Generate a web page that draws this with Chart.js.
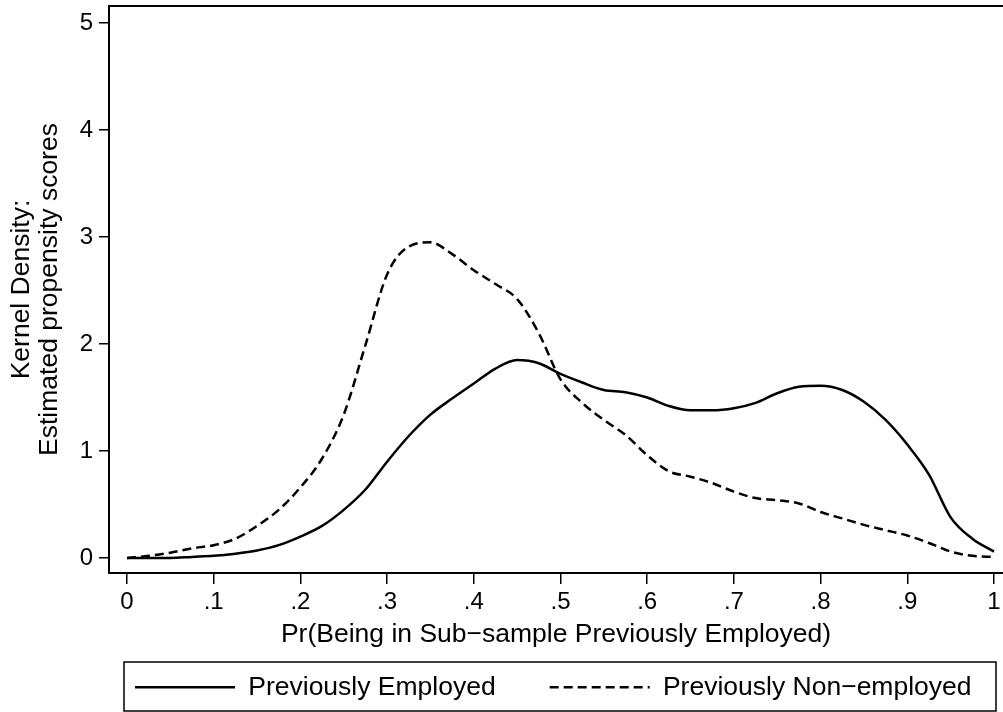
<!DOCTYPE html>
<html>
<head>
<meta charset="utf-8">
<script src="https://cdn.jsdelivr.net/npm/chart.js@4.4.1/dist/chart.umd.min.js"></script>
<style>
    html, body { margin: 0; padding: 0; background: #fff; }
    #box { width: 1003px; height: 712px; }
</style>
</head>
<body>
<div id="box"><canvas id="densidade"></canvas></div>
<script>
var xGrid = [
    0, 0.025, 0.05, 0.075, 0.1, 0.125, 0.15, 0.175, 0.2, 0.225,
    0.25, 0.275, 0.3, 0.325, 0.35, 0.375, 0.4, 0.425, 0.45, 0.475,
    0.5, 0.525, 0.55, 0.575, 0.6, 0.625, 0.65, 0.675, 0.7, 0.725,
    0.75, 0.775, 0.8, 0.825, 0.85, 0.875, 0.9, 0.925, 0.95, 0.975, 1
];

var employed = [
    0, 0, 0, 0.01, 0.02, 0.04, 0.07, 0.12, 0.20, 0.30,
    0.45, 0.64, 0.90, 1.14, 1.34, 1.49, 1.63, 1.77, 1.85, 1.82,
    1.72, 1.64, 1.57, 1.55, 1.50, 1.42, 1.38, 1.38, 1.40, 1.45,
    1.54, 1.60, 1.61, 1.57, 1.46, 1.29, 1.06, 0.78, 0.38, 0.18, 0.06
];

var nonEmployed = [
    0, 0.02, 0.05, 0.09, 0.12, 0.18, 0.30, 0.45, 0.66, 0.93,
    1.34, 1.99, 2.65, 2.91, 2.95, 2.84, 2.69, 2.56, 2.42, 2.10,
    1.67, 1.45, 1.29, 1.15, 0.96, 0.81, 0.76, 0.70, 0.62, 0.56,
    0.54, 0.51, 0.43, 0.37, 0.31, 0.26, 0.21, 0.14, 0.06, 0.02, 0.01
];

var seriesNames = ['Previously Employed', 'Previously Non\u2212employed'];

var xTicks = [0, 0.1, 0.2, 0.3, 0.4, 0.5, 0.6, 0.7, 0.8, 0.9, 1];
var xTickLabels = ['0', '.1', '.2', '.3', '.4', '.5', '.6', '.7', '.8', '.9', '1'];
var yTicks = [0, 1, 2, 3, 4, 5];
var yTickLabels = ['0', '1', '2', '3', '4', '5'];

var xTitle = 'Pr(Being in Sub\u2212sample Previously Employed)';
var yTitle = ['Kernel Density:', 'Estimated propensity scores'];

function pontos(valores) {
    var lista = [];
    for (let i = 0; i < xGrid.length; i++) {
        lista.push({ x: xGrid[i], y: valores[i] });
    }
    return lista;
}

var fonte = "'Liberation Sans', Arial, Helvetica, sans-serif";
var legendPad = 54;

// moldura do grafico e caixa da legenda, como no Stata
var moldura = {
    id: 'moldura',
    beforeLayout: function (chart) {
        var lg = chart.legend;
        if (lg && !lg._fitOriginal) {
            lg._fitOriginal = lg.fit;
            lg.fit = function () {
                lg._fitOriginal.call(lg);
                lg.height = 0;
            };
        }
    },
    afterLayout: function (chart) {
        var lg = chart.legend;
        lg.left = 135 - legendPad;
        lg.right = 1100;
        lg.top = 674 - legendPad;
        lg.bottom = 711;
        lg.width = lg.right - lg.left;
        lg.height = lg.bottom - lg.top;
    },
    afterDraw: function (chart) {
        var ctx = chart.ctx;
        var area = chart.chartArea;
        ctx.save();
        ctx.strokeStyle = '#000';
        ctx.lineWidth = 2;
        ctx.beginPath();
        ctx.moveTo(area.left - 1, area.top);
        ctx.lineTo(area.right, area.top);
        ctx.stroke();
        ctx.lineWidth = 1.5;
        ctx.strokeRect(124, 662, 872, 49);
        ctx.restore();
    }
};

Chart.defaults.font.family = fonte;
Chart.defaults.color = '#000';

var graphDensidade = new Chart(document.getElementById('densidade'), {
    type: 'line',
    data: {
        datasets: [{
            label: seriesNames[0],
            data: pontos(employed),
            borderColor: '#000',
            backgroundColor: '#000',
            borderWidth: 2.5,
            pointRadius: 0,
            fill: false,
            cubicInterpolationMode: 'monotone'
        }, {
            label: seriesNames[1],
            data: pontos(nonEmployed),
            borderColor: '#000',
            backgroundColor: '#000',
            borderWidth: 2.5,
            borderDash: [9, 5],
            pointRadius: 0,
            fill: false,
            cubicInterpolationMode: 'monotone'
        }]
    },
    options: {
        responsive: true,
        maintainAspectRatio: false,
        animation: false,
        layout: {
            padding: { left: 0, top: 6, right: 0, bottom: 59 }
        },
        plugins: {
            tooltip: { enabled: false },
            legend: {
                display: true,
                position: 'bottom',
                align: 'start',
                labels: {
                    usePointStyle: true,
                    pointStyleWidth: 100,
                    padding: legendPad,
                    color: '#000',
                    font: { size: 26.5 },
                    generateLabels: function (chart) {
                        var itens = Chart.defaults.plugins.legend.labels.generateLabels(chart);
                        itens.forEach(function (item) {
                            var ds = chart.data.datasets[item.datasetIndex];
                            item.pointStyle = 'line';
                            item.lineDash = ds.borderDash || [];
                            item.lineWidth = 2.5;
                            item.strokeStyle = '#000';
                            item.fillStyle = '#000';
                        });
                        return itens;
                    }
                }
            }
        },
        scales: {
            x: {
                type: 'linear',
                min: -18 / 867,
                max: -18 / 867 + 894 / 867,
                afterBuildTicks: function (scale) {
                    scale.ticks = xTicks.map(function (v) { return { value: v }; });
                },
                afterFit: function (scale) {
                    scale.height = 80;
                    scale.paddingLeft = 0;
                    scale.paddingRight = 0;
                },
                ticks: {
                    autoSkip: false,
                    maxRotation: 0,
                    padding: 4,
                    font: { size: 24 },
                    callback: function (value, index) {
                        return xTickLabels[index];
                    }
                },
                grid: {
                    drawOnChartArea: false,
                    tickLength: 11,
                    tickColor: '#000',
                    lineWidth: 1.5
                },
                border: { display: true, color: '#000', width: 2 },
                title: {
                    display: true,
                    text: xTitle,
                    font: { size: 26.5 },
                    padding: { top: 0, bottom: 2 }
                }
            },
            y: {
                type: 'linear',
                min: -15 / 107,
                max: -15 / 107 + 567 / 107,
                afterBuildTicks: function (scale) {
                    scale.ticks = yTicks.map(function (v) { return { value: v }; });
                },
                afterFit: function (scale) {
                    scale.width = 109;
                    scale.paddingTop = 0;
                    scale.paddingBottom = 0;
                },
                ticks: {
                    autoSkip: false,
                    padding: 6,
                    font: { size: 24 },
                    callback: function (value, index) {
                        return yTickLabels[index];
                    }
                },
                grid: {
                    drawOnChartArea: false,
                    tickLength: 10,
                    tickColor: '#000',
                    lineWidth: 1.5
                },
                border: { display: true, color: '#000', width: 2 },
                title: {
                    display: true,
                    text: yTitle,
                    font: { size: 26.5, lineHeight: 1.05 },
                    padding: { top: 8, bottom: 0 }
                }
            }
        }
    },
    plugins: [moldura]
});
</script>
</body>
</html>
